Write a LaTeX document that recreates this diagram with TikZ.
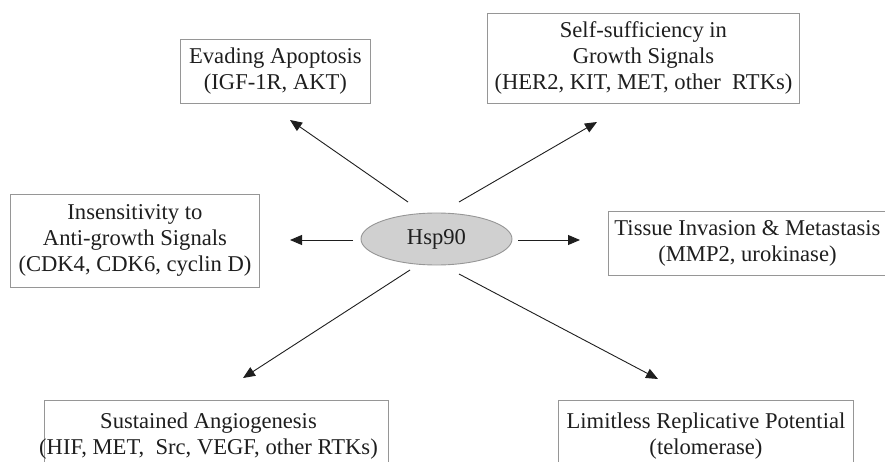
\documentclass[tikz,border=0pt]{standalone}
\usepackage{fontspec}
\setmainfont{Liberation Serif}
\usetikzlibrary{arrows.meta,shapes.geometric}
\definecolor{boxgray}{RGB}{150,150,150}
\definecolor{ellfill}{RGB}{208,208,208}
\definecolor{inkc}{RGB}{30,30,30}
\begin{document}
\begin{tikzpicture}[x=1pt,y=-1pt,
  box/.style={draw=boxgray, line width=0.9pt, align=center, text=inkc,
    font=\fontsize{22.6}{26}\selectfont, inner sep=0pt, anchor=north west},
  txt/.style={align=center, text=inkc, font=\fontsize{22.6}{26}\selectfont, inner sep=0pt},
  arr/.style={draw=inkc, line width=0.9pt, -{Triangle[length=12pt,width=10pt]}}]
\useasboundingbox (0,0) rectangle (885,462);
\clip (0,0) rectangle (885,462);

\node[box, minimum width=190, minimum height=64] (ea) at (180,39)
  {Evading Apoptosis\\(IGF-1R, AKT)};
\node[box, minimum width=312, minimum height=90] (ss) at (487,13)
  {Self-sufficiency in\\Growth Signals\\(HER2, KIT, MET, other\ \ RTKs)};
\node[box, minimum width=249, minimum height=93] (ins) at (10,194)
  {Insensitivity to\\Anti-growth Signals\\(CDK4, CDK6, cyclin D)};
\node[box, minimum width=278, minimum height=64] (ti) at (608,211)
  {Tissue Invasion \& Metastasis\\(MMP2, urokinase)};
\node[box, minimum width=344, minimum height=72] (sa) at (44,400) {};
\node[txt] (satxt) at (208.5,436) {Sustained Angiogenesis\\(HIF, MET,\ \ Src, VEGF, other RTKs)};
\node[box, minimum width=295, minimum height=72] (lr) at (558,400)
  {Limitless Replicative Potential\\(telomerase)};

\node[draw=boxgray, fill=ellfill, line width=0.9pt, ellipse, minimum width=151,
  minimum height=52, inner sep=0pt, text=inkc, font=\fontsize{22.6}{26}\selectfont]
  (hsp) at (436.5,239) {Hsp90};

\coordinate (s1) at (408,202); \coordinate (e1) at (290,120);
\coordinate (s2) at (459,202); \coordinate (e2) at (597,122);
\coordinate (s3) at (353,240); \coordinate (e3) at (290,240);
\coordinate (s4) at (518,240); \coordinate (e4) at (580,240);
\coordinate (s5) at (410,270); \coordinate (e5) at (243,378);
\coordinate (s6) at (459,274); \coordinate (e6) at (658,379);

\draw[arr] (s1) -- (e1);
\draw[arr] (s2) -- (e2);
\draw[arr] (s3) -- (e3);
\draw[arr] (s4) -- (e4);
\draw[arr] (s5) -- (e5);
\draw[arr] (s6) -- (e6);
\end{tikzpicture}
\end{document}
